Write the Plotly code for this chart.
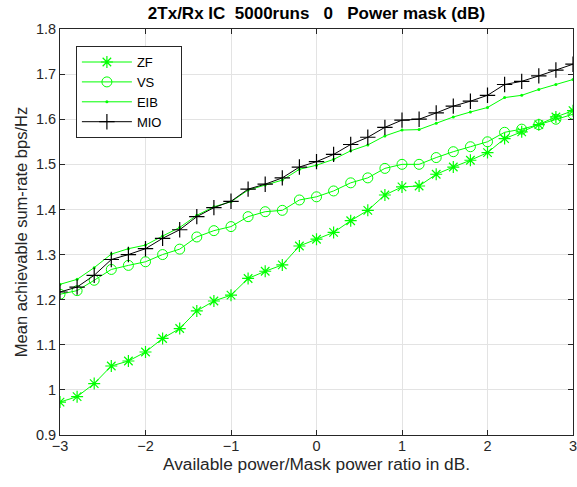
import plotly.graph_objects as go

x_db = [round(-3 + 0.2 * i, 1) for i in range(31)]

zf = [0.973, 0.985, 1.014, 1.053, 1.064, 1.084, 1.114, 1.136, 1.175, 1.197, 1.210,
      1.247, 1.263, 1.277, 1.319, 1.334, 1.349, 1.375, 1.398, 1.432, 1.450, 1.452,
      1.478, 1.494, 1.509, 1.526, 1.557, 1.572, 1.588, 1.605, 1.619]
vs = [1.212, 1.220, 1.243, 1.267, 1.276, 1.284, 1.300, 1.312, 1.339, 1.353, 1.362,
      1.384, 1.395, 1.398, 1.421, 1.428, 1.441, 1.459, 1.470, 1.491, 1.500, 1.500,
      1.515, 1.528, 1.539, 1.550, 1.571, 1.578, 1.588, 1.600, 1.611]
eib = [1.234, 1.245, 1.271, 1.301, 1.313, 1.321, 1.341, 1.360, 1.387, 1.406, 1.417,
       1.443, 1.454, 1.465, 1.489, 1.498, 1.511, 1.530, 1.543, 1.563, 1.576, 1.577,
       1.591, 1.605, 1.616, 1.626, 1.648, 1.653, 1.666, 1.677, 1.688]
mio = [1.217, 1.228, 1.254, 1.289, 1.300, 1.313, 1.336, 1.355, 1.384, 1.404, 1.418,
       1.445, 1.456, 1.470, 1.494, 1.506, 1.522, 1.544, 1.560, 1.582, 1.598, 1.600,
       1.614, 1.629, 1.640, 1.653, 1.677, 1.684, 1.696, 1.709, 1.722]

series_names = ["ZF", "VS", "EIB", "MIO"]
x_ticks = [-3, -2, -1, 0, 1, 2, 3]
y_ticks = [0.9, 1.0, 1.1, 1.2, 1.3, 1.4, 1.5, 1.6, 1.7, 1.8]
y_tick_text = ["0.9", "1", "1.1", "1.2", "1.3", "1.4", "1.5", "1.6", "1.7", "1.8"]

GREEN = "#00ff00"
AX = "#262626"
FONT = "Liberation Sans, Arial, sans-serif"
PAD = "\u00a0" * 4

fig = go.Figure()
fig.add_trace(go.Scatter(x=x_db, y=zf, name=series_names[0] + PAD, mode="lines+markers",
                         line=dict(color=GREEN, width=1),
                         marker=dict(symbol="asterisk-open", size=10,
                                     line=dict(color=GREEN, width=1.2))))
fig.add_trace(go.Scatter(x=x_db, y=vs, name=series_names[1] + PAD, mode="lines+markers",
                         line=dict(color=GREEN, width=1),
                         marker=dict(symbol="circle-open", size=10,
                                     line=dict(color=GREEN, width=1))))
fig.add_trace(go.Scatter(x=x_db, y=eib, name=series_names[2] + PAD, mode="lines+markers",
                         line=dict(color=GREEN, width=1),
                         marker=dict(symbol="circle", size=3, color=GREEN)))
fig.add_trace(go.Scatter(x=x_db, y=mio, name=series_names[3] + PAD, mode="lines+markers",
                         line=dict(color="black", width=1),
                         marker=dict(symbol="cross-thin-open", size=11,
                                     line=dict(color="black", width=1.2))))

axis_common = dict(showgrid=True, gridcolor="#e3e3e3", gridwidth=1,
                   showline=True, linecolor=AX, linewidth=1,
                   mirror="ticks", ticks="inside", ticklen=5, tickcolor=AX,
                   zeroline=False, automargin=False,
                   tickfont=dict(size=14.5, color=AX, family=FONT))

fig.update_xaxes(range=[-3, 3], tickvals=x_ticks, ticklabeloverflow="allow",
                 ticklabelstandoff=-2,
                 title=dict(text="Available power/Mask power ratio in dB.",
                            font=dict(size=17.3, color=AX, family=FONT), standoff=1),
                 **axis_common)
fig.update_yaxes(range=[0.9, 1.8], tickvals=y_ticks, ticktext=y_tick_text,
                 title=dict(text="Mean achievable sum-rate bps/Hz",
                            font=dict(size=16.5, color=AX, family=FONT), standoff=4),
                 **axis_common)

fig.update_layout(
    width=577, height=487,
    margin=dict(l=60, r=4, t=29, b=52, autoexpand=False),
    paper_bgcolor="white", plot_bgcolor="white",
    font=dict(family=FONT, color=AX),
    title=dict(text="<b>2Tx/Rx IC\u00a0 5000runs \u00a0 0 \u00a0 Power mask (dB)</b>",
               xref="paper", x=0.5, xanchor="center",
               yref="container", y=0.973, yanchor="middle",
               font=dict(size=17, color="black", family=FONT)),
    legend=dict(x=0.031, y=0.958, xanchor="left", yanchor="top",
                bgcolor="white", bordercolor=AX, borderwidth=1,
                font=dict(size=13, color="black", family=FONT),
                tracegroupgap=0, itemwidth=50),
    showlegend=True,
)

fig.write_html("out.html", config={"displayModeBar": False},
               post_script="document.body.style.margin='0';")
